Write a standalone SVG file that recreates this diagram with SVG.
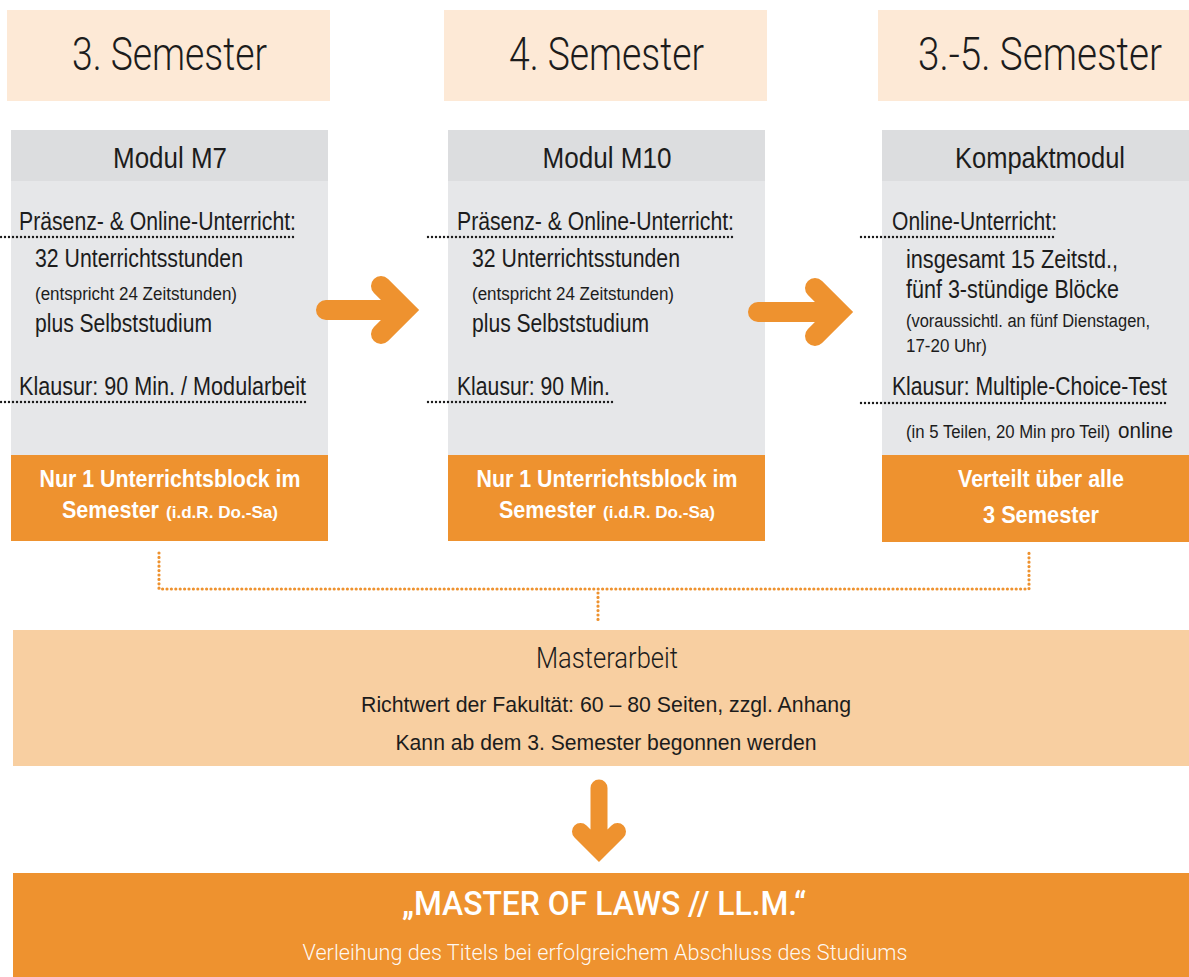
<svg xmlns="http://www.w3.org/2000/svg" width="1189" height="977" viewBox="0 0 1189 977">
<style>
text{font-family:"Liberation Sans Narrow","Liberation Sans",Arial,sans-serif;fill:#1c1c1c}
.lt{font-family:Roboto,"Liberation Sans",Arial,sans-serif;font-weight:300}
.hd{font-size:47px}
.mt{font-size:30px;text-anchor:middle}
.b{font-size:25px}
.s{font-size:18px}
.w{fill:#ffffff;font-weight:bold;font-size:23px;text-anchor:middle}
.ws{font-size:17px}
.ma{font-size:29px;text-anchor:middle}
.mm{font-size:22px;text-anchor:middle}
.peach{fill:#fde9d6}
.gh{fill:#dcdddf}
.gb{fill:#e6e7e9}
.or{fill:#ee922f}
.dot{stroke:#1c1c1c;stroke-width:2.4;stroke-linecap:round;stroke-dasharray:0 4;fill:none}
.odot{stroke:#ee922f;stroke-width:3.2;stroke-linecap:round;stroke-dasharray:0 4.4;fill:none}
.arr{stroke:#ee922f;stroke-width:20;stroke-linecap:round;stroke-linejoin:miter;fill:none}
</style>

<g id="sem3">
<rect class="peach" x="7" y="10" width="323" height="91"/>
<text class="hd lt" x="72" y="70" textLength="195" lengthAdjust="spacingAndGlyphs">3. Semester</text>
</g>
<g id="sem4">
<rect class="peach" x="444" y="10" width="323" height="91"/>
<text class="hd lt" x="509" y="70" textLength="195" lengthAdjust="spacingAndGlyphs">4. Semester</text>
</g>
<g id="sem35">
<rect class="peach" x="878" y="10" width="311" height="91"/>
<text class="hd lt" x="918" y="70" textLength="244" lengthAdjust="spacingAndGlyphs">3.-5. Semester</text>
</g>

<g id="m7">
<rect class="gh" x="11" y="130" width="317" height="51"/>
<rect class="gb" x="11" y="181" width="317" height="274"/>
<rect class="or" x="11" y="455" width="317" height="86"/>
<text class="mt" x="170" y="168" textLength="114" lengthAdjust="spacingAndGlyphs">Modul M7</text>
<text class="b" x="19" y="230" textLength="277" lengthAdjust="spacingAndGlyphs">Präsenz- &amp; Online-Unterricht:</text>
<text class="b" x="35" y="267" textLength="208" lengthAdjust="spacingAndGlyphs">32 Unterrichtsstunden</text>
<text class="s" x="35" y="300" textLength="202" lengthAdjust="spacingAndGlyphs">(entspricht 24 Zeitstunden)</text>
<text class="b" x="35" y="332" textLength="177" lengthAdjust="spacingAndGlyphs">plus Selbststudium</text>
<text class="b" x="19" y="395" textLength="287" lengthAdjust="spacingAndGlyphs">Klausur: 90 Min. / Modularbeit</text>
<text class="w" x="170" y="487" textLength="261" lengthAdjust="spacingAndGlyphs">Nur 1 Unterrichtsblock im</text>
<text class="w" x="62" y="518" style="text-anchor:start"><tspan textLength="97" lengthAdjust="spacingAndGlyphs">Semester</tspan><tspan class="ws" x="166" textLength="112" lengthAdjust="spacingAndGlyphs">(i.d.R. Do.-Sa)</tspan></text>
</g>

<g id="m10">
<rect class="gh" x="448" y="130" width="317" height="51"/>
<rect class="gb" x="448" y="181" width="317" height="274"/>
<rect class="or" x="448" y="455" width="317" height="86"/>
<text class="mt" x="607" y="168" textLength="129" lengthAdjust="spacingAndGlyphs">Modul M10</text>
<text class="b" x="457" y="230" textLength="277" lengthAdjust="spacingAndGlyphs">Präsenz- &amp; Online-Unterricht:</text>
<text class="b" x="472" y="267" textLength="208" lengthAdjust="spacingAndGlyphs">32 Unterrichtsstunden</text>
<text class="s" x="472" y="300" textLength="202" lengthAdjust="spacingAndGlyphs">(entspricht 24 Zeitstunden)</text>
<text class="b" x="472" y="332" textLength="177" lengthAdjust="spacingAndGlyphs">plus Selbststudium</text>
<text class="b" x="457" y="395" textLength="153" lengthAdjust="spacingAndGlyphs">Klausur: 90 Min.</text>
<text class="w" x="607" y="487" textLength="261" lengthAdjust="spacingAndGlyphs">Nur 1 Unterrichtsblock im</text>
<text class="w" x="499" y="518" style="text-anchor:start"><tspan textLength="97" lengthAdjust="spacingAndGlyphs">Semester</tspan><tspan class="ws" x="603" textLength="112" lengthAdjust="spacingAndGlyphs">(i.d.R. Do.-Sa)</tspan></text>
</g>

<g id="kompakt">
<rect class="gh" x="882" y="130" width="307" height="51"/>
<rect class="gb" x="882" y="181" width="307" height="274"/>
<rect class="or" x="882" y="455" width="307" height="87"/>
<text class="mt" x="1040" y="168" textLength="170" lengthAdjust="spacingAndGlyphs">Kompaktmodul</text>
<text class="b" x="892" y="230" textLength="165" lengthAdjust="spacingAndGlyphs">Online-Unterricht:</text>
<text class="b" x="906" y="268" textLength="212" lengthAdjust="spacingAndGlyphs">insgesamt 15 Zeitstd.,</text>
<text class="b" x="906" y="298" textLength="213" lengthAdjust="spacingAndGlyphs">fünf 3-stündige Blöcke</text>
<text class="s" x="906" y="327" textLength="244" lengthAdjust="spacingAndGlyphs">(voraussichtl. an fünf Dienstagen,</text>
<text class="s" x="906" y="352" textLength="81" lengthAdjust="spacingAndGlyphs">17-20 Uhr)</text>
<text class="b" x="892" y="395" textLength="275" lengthAdjust="spacingAndGlyphs">Klausur: Multiple-Choice-Test</text>
<text class="s" x="906" y="438" textLength="204" lengthAdjust="spacingAndGlyphs">(in 5 Teilen, 20 Min pro Teil)</text>
<text x="1118" y="438" style="font-size:22px" textLength="55" lengthAdjust="spacingAndGlyphs">online</text>
<text class="w" x="1041" y="487" textLength="166" lengthAdjust="spacingAndGlyphs">Verteilt über alle</text>
<text class="w" x="1041" y="523" textLength="116" lengthAdjust="spacingAndGlyphs">3 Semester</text>
</g>

<g id="masterarbeit">
<rect fill="#f8cfa1" x="13" y="630" width="1176" height="136"/>
<text class="ma lt" x="607" y="668" textLength="142" lengthAdjust="spacingAndGlyphs">Masterarbeit</text>
<text class="mm" x="606" y="712" textLength="490" lengthAdjust="spacingAndGlyphs">Richtwert der Fakultät: 60 – 80 Seiten, zzgl. Anhang</text>
<text class="mm" x="606" y="750" textLength="421" lengthAdjust="spacingAndGlyphs">Kann ab dem 3. Semester begonnen werden</text>
</g>

<g id="llm">
<rect class="or" x="13" y="873" width="1176" height="104"/>
<text x="604" y="915" style="fill:#fff;font-family:Roboto,'Liberation Sans',sans-serif;font-weight:500;font-size:33px;text-anchor:middle" textLength="404" lengthAdjust="spacingAndGlyphs">„MASTER OF LAWS // LL.M.“</text>
<text class="lt" x="605" y="960" style="fill:#fff;fill-opacity:0.95;font-size:22px;text-anchor:middle" textLength="605" lengthAdjust="spacingAndGlyphs">Verleihung des Titels  bei erfolgreichem Abschluss des Studiums</text>
</g>

<g id="connectors">
<line class="dot" x1="1" y1="237" x2="296" y2="237"/>
<line class="dot" x1="1" y1="402" x2="309" y2="402"/>
<line class="dot" x1="428" y1="237" x2="733" y2="237"/>
<line class="dot" x1="428" y1="402" x2="615" y2="402"/>
<line class="dot" x1="861" y1="237" x2="1057" y2="237"/>
<line class="dot" x1="861" y1="403" x2="1169" y2="403"/>
<path class="odot" d="M159,553 V589 H1029 V553"/>
<line class="odot" x1="598" y1="593" x2="598" y2="623"/>
<path class="arr" d="M326,310 H405 M381,286 L405,310 L381,334"/>
<path class="arr" d="M758,312 H839 M815,288 L839,312 L815,336"/>
<path class="arr" style="stroke-width:17" d="M599,788 V850 M580.5,831.5 L599,850 L617.5,831.5"/>
</g>
</svg>
